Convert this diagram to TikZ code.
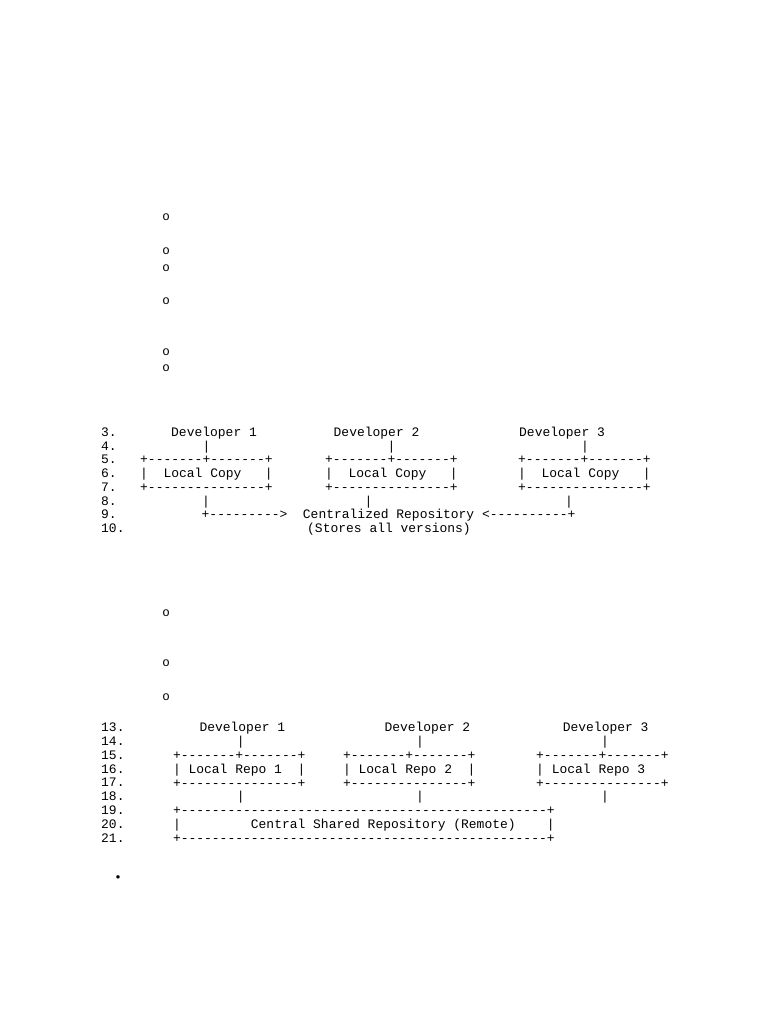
\documentclass[tikz,border=0pt]{standalone}
\usepackage{fontspec}
\setmonofont{Liberation Mono}
\usepackage{tikz}

\begin{document}
\begin{tikzpicture}[x=1pt, y=-1pt,
	txt/.style={font=\ttfamily\fontsize{12.98}{15}\selectfont, inner sep=0pt, anchor=base west},
	bar/.style={txt, anchor=base},
	hollow/.style={font=\ttfamily\fontsize{12.5}{15}\selectfont, inner sep=0pt}]
	\useasboundingbox (0,0) rectangle (768,1024);
	\foreach \y [count=\i] in {217,251,268,301,352,368,613,663,697}
	\node[hollow] (o\i) at (166,\y) {o};
	\node[inner sep=0pt, font=\fontsize{13}{15}\selectfont] (dot) at (118,878) {\textbullet};
	\foreach \n in {3,...,10}
	\node[txt] (num\n) at (101,{436.5+(\n-3)*13.7}) {\n.};
	\foreach \n in {13,...,21}
	\node[txt] (num\n) at (101,{731.5+(\n-13)*13.87}) {\n.};

	\node[txt] (dev1) at (171,436.5) {Developer 1};
	\node[txt] (dev2) at (333.5,436.5) {Developer 2};
	\node[txt] (dev3) at (519,436.5) {Developer 3};
	\node[bar] (up1) at (206.5,450.2) {|};
	\node[bar] (up2) at (391.5,450.2) {|};
	\node[bar] (up3) at (585,450.2) {|};
	\node[txt] (top1) at (140,463.9) {+-------+-------+};
	\node[txt] (top2) at (325,463.9) {+-------+-------+};
	\node[txt] (top3) at (518,463.9) {+-------+-------+};
	\node[txt] (copy1) at (140,477.6) {|~~Local Copy~~~|};
	\node[txt] (copy2) at (325,477.6) {|~~Local Copy~~~|};
	\node[txt] (copy3) at (518,477.6) {|~~Local Copy~~~|};
	\node[txt] (bot1) at (140,491.3) {+---------------+};
	\node[txt] (bot2) at (325,491.3) {+---------------+};
	\node[txt] (bot3) at (518,491.3) {+---------------+};
	\node[bar] (down1) at (206,505) {|};
	\node[bar] (down2) at (368.5,505) {|};
	\node[bar] (down3) at (569,505) {|};
	\node[txt] (central) at (201.5,518.7) {+--------->~~Centralized Repository <----------+};
	\node[txt] (stores) at (307,532.4) {(Stores all versions)};

	\node[txt] (dev4) at (199.3,731.5) {Developer 1};
	\node[txt] (dev5) at (384.3,731.5) {Developer 2};
	\node[txt] (dev6) at (562.6,731.5) {Developer 3};
	\node[bar] (up4) at (240.7,745.4) {|};
	\node[bar] (up5) at (420,745.4) {|};
	\node[bar] (up6) at (605,745.4) {|};
	\node[txt] (top4) at (172.8,759.2) {+-------+-------+};
	\node[txt] (top5) at (342.8,759.2) {+-------+-------+};
	\node[txt] (top6) at (536,759.2) {+-------+-------+};
	\node[txt] (repo1) at (172.8,773.1) {|~Local Repo 1~~|};
	\node[txt] (repo2) at (342.8,773.1) {|~Local Repo 2~~|};
	\node[txt] (repo3) at (536,773.1) {|~Local Repo 3};
	\node[txt] (bot4) at (172.8,787) {+---------------+};
	\node[txt] (bot5) at (342.8,787) {+---------------+};
	\node[txt] (bot6) at (536,787) {+---------------+};
	\node[bar] (down4) at (240.7,800.9) {|};
	\node[bar] (down5) at (420,800.9) {|};
	\node[bar] (down6) at (605,800.9) {|};
	\node[txt] (remtop) at (172.8,814.7) {+-----------------------------------------------+};
	\node[txt] (remote) at (172.8,828.6) {|~~~~~~~~~Central Shared Repository (Remote)~~~~|};
	\node[txt] (rembot) at (172.8,842.5) {+-----------------------------------------------+};
\end{tikzpicture}
\end{document}
